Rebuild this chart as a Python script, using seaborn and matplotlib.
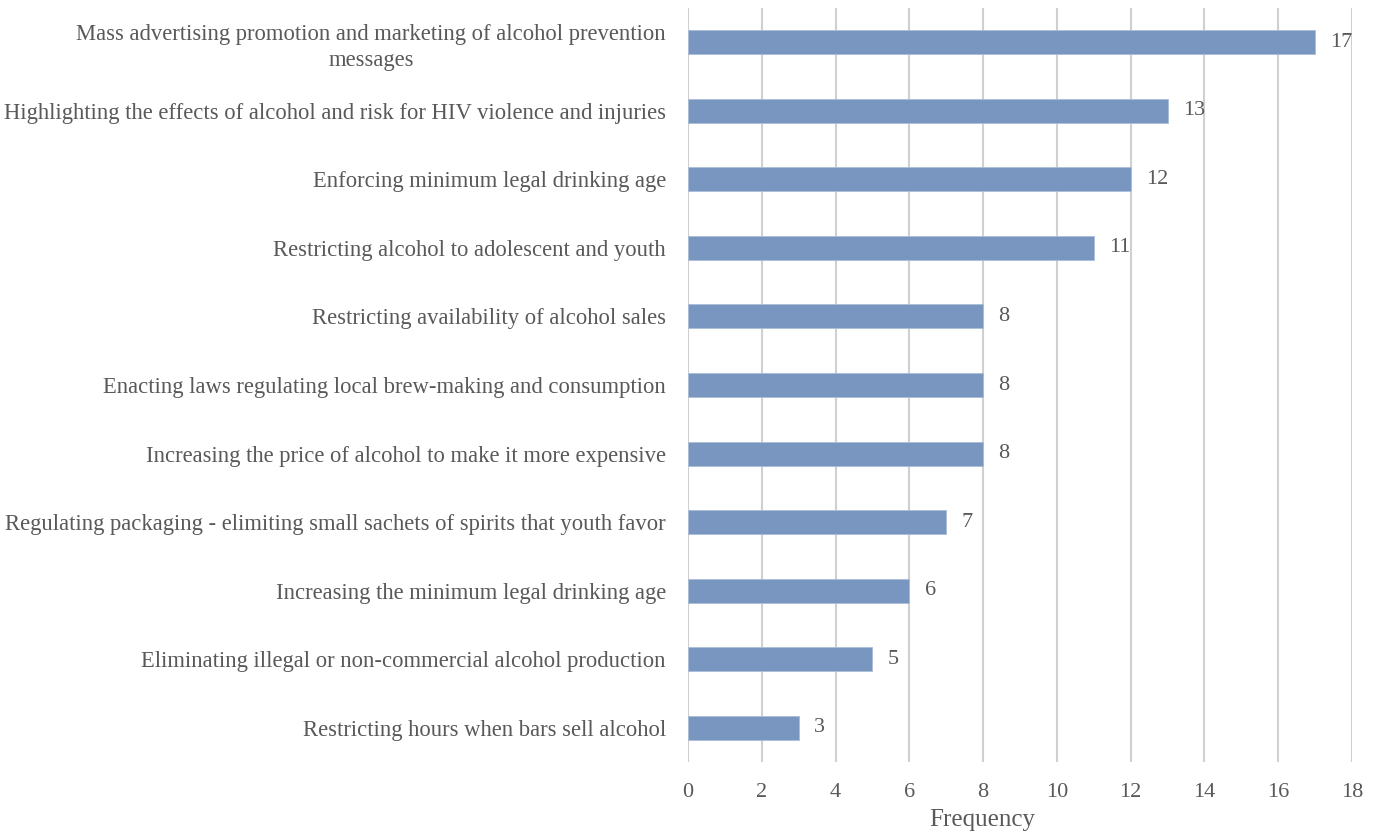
import matplotlib
matplotlib.use("Agg")
import matplotlib.pyplot as plt
import seaborn as sns
import pandas as pd

categories = [
    "Mass advertising promotion and marketing of alcohol prevention\nmessages",
    "Highlighting the effects of alcohol and risk for HIV violence and injuries",
    "Enforcing minimum legal drinking age",
    "Restricting alcohol to adolescent and youth",
    "Restricting availability of alcohol sales",
    "Enacting laws regulating local brew-making and consumption",
    "Increasing the price of alcohol to make it more expensive",
    "Regulating packaging - elimiting small sachets of spirits that youth favor",
    "Increasing the minimum legal drinking age",
    "Eliminating illegal or non-commercial alcohol production",
    "Restricting hours when bars sell alcohol",
]
frequency = [17, 13, 12, 11, 8, 8, 8, 7, 6, 5, 3]
x_ticks = [0, 2, 4, 6, 8, 10, 12, 14, 16, 18]

sns.set_theme(style="white")
plt.rcParams["font.family"] = ["Liberation Serif", "DejaVu Serif"]
text_color = "#595959"

df = pd.DataFrame({"category": categories, "frequency": frequency})

fig = plt.figure(figsize=(13.81, 8.34), dpi=100)
ax = fig.add_axes([688 / 1381, 1 - 762 / 834, (1352 - 688) / 1381, (762 - 8) / 834])

sns.barplot(data=df, y="category", x="frequency", orient="h", color="#7996C0",
            saturation=1, width=0.35, ax=ax, zorder=3,
            edgecolor="#a9bdd8", linewidth=0.6)

ax.set_xlim(0, 18)
ax.set_ylim(10.5, -0.5)
ax.set_xticks(x_ticks)
ax.xaxis.grid(True, color="#d0d0d0", linewidth=1.5, zorder=0)
ax.yaxis.grid(False)
for s in ax.spines.values():
    s.set_visible(False)

ax.tick_params(axis="x", length=0, pad=15, labelsize=16, labelcolor=text_color)
ax.tick_params(axis="y", length=0, pad=16, labelsize=16.3, labelcolor=text_color)
for lbl in ax.get_yticklabels():
    lbl.set_multialignment("center")
    lbl.set_linespacing(1.3)

ax.set_ylabel("")
ax.set_xlabel("Frequency", fontsize=18, color=text_color)
ax.xaxis.set_label_coords(0.443, -0.062)

for i, v in enumerate(frequency):
    ax.text(v + 0.42, i, str(v), va="center", ha="left",
            fontsize=16, color=text_color)

fig.savefig("out.png", dpi=100)
